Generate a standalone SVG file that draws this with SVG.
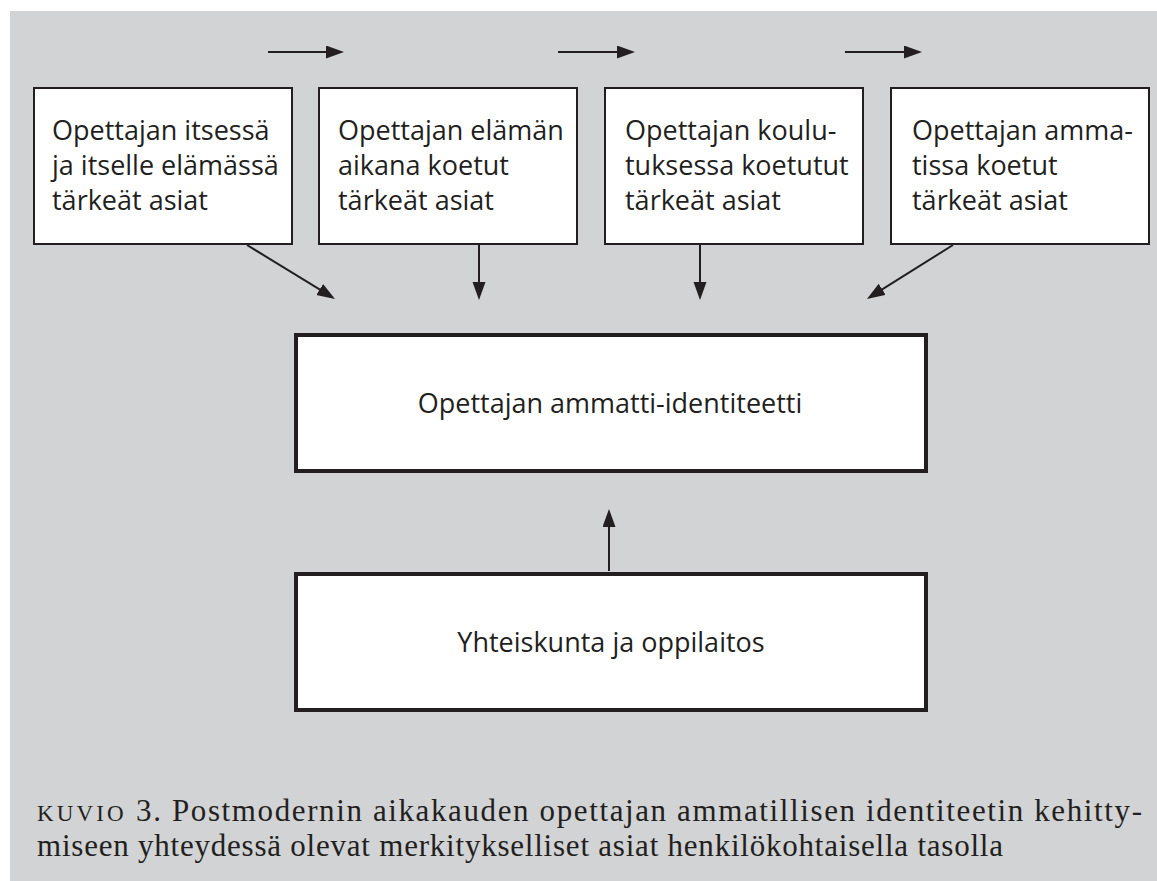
<svg xmlns="http://www.w3.org/2000/svg" width="1157" height="881" viewBox="0 0 1157 881">
<defs>
<style>
.bg{fill:#D1D3D4}
.box{fill:#FFFFFF;stroke:#231F20;stroke-width:2}
.bigbox{fill:#FFFFFF;stroke:#231F20;stroke-width:4}
.lbl{font-family:"Open Sans","Noto Sans",sans-serif;font-size:27px;fill:#231F20}
.mid{text-anchor:middle}
.conn{stroke:#231F20;stroke-width:2;fill:none;marker-end:url(#ah)}
.cap{font-family:"Liberation Serif","Times New Roman",serif;font-size:31px;fill:#231F20}
</style>
<marker id="ah" markerUnits="userSpaceOnUse" markerWidth="18" markerHeight="14" refX="8" refY="6.5" orient="auto">
<path d="M0,0 L18,6.5 L0,13 Z" fill="#231F20"/>
</marker>
</defs>
<rect class="bg" x="10" y="11" width="1147" height="870"/>

<g id="connectors">
<line class="conn" x1="268" y1="52" x2="334" y2="52"/>
<line class="conn" x1="558" y1="52" x2="625" y2="52"/>
<line class="conn" x1="845" y1="52" x2="912" y2="52"/>
<line class="conn" x1="247" y1="245" x2="326.5" y2="293.7"/>
<line class="conn" x1="479" y1="245" x2="479" y2="290"/>
<line class="conn" x1="700" y1="245" x2="700" y2="290"/>
<line class="conn" x1="953" y1="245" x2="875.4" y2="293.6"/>
<line class="conn" x1="609" y1="571" x2="609" y2="519"/>
</g>

<g id="node1">
<rect class="box" x="34" y="88" width="258" height="156"/>
<text class="lbl" x="52" y="140">Opettajan itsessä</text>
<text class="lbl" x="52" y="175">ja itselle elämässä</text>
<text class="lbl" x="52" y="210">tärkeät asiat</text>
</g>
<g id="node2">
<rect class="box" x="319" y="88" width="258" height="156"/>
<text class="lbl" x="338" y="140">Opettajan elämän</text>
<text class="lbl" x="338" y="175">aikana koetut</text>
<text class="lbl" x="338" y="210">tärkeät asiat</text>
</g>
<g id="node3">
<rect class="box" x="605" y="88" width="258" height="156"/>
<text class="lbl" x="625" y="140">Opettajan koulu-</text>
<text class="lbl" x="625" y="175">tuksessa koetutut</text>
<text class="lbl" x="625" y="210">tärkeät asiat</text>
</g>
<g id="node4">
<rect class="box" x="891" y="88" width="258" height="156"/>
<text class="lbl" x="912" y="140">Opettajan amma-</text>
<text class="lbl" x="912" y="175">tissa koetut</text>
<text class="lbl" x="912" y="210">tärkeät asiat</text>
</g>
<g id="identity">
<rect class="bigbox" x="296" y="335" width="630" height="136"/>
<text class="lbl mid" x="610" y="413">Opettajan ammatti-identiteetti</text>
</g>
<g id="society">
<rect class="bigbox" x="296" y="574" width="630" height="136"/>
<text class="lbl mid" x="611" y="652">Yhteiskunta ja oppilaitos</text>
</g>

<g id="caption">
<text class="cap" x="37" y="821" textLength="1105" lengthAdjust="spacing"><tspan font-size="23" letter-spacing="1.5">KUVIO</tspan> 3. Postmodernin aikakauden opettajan ammatillisen identiteetin kehitty-</text>
<text class="cap" x="37" y="856" textLength="966" lengthAdjust="spacing">miseen yhteydessä olevat merkitykselliset asiat henkilökohtaisella tasolla</text>
</g>
</svg>
